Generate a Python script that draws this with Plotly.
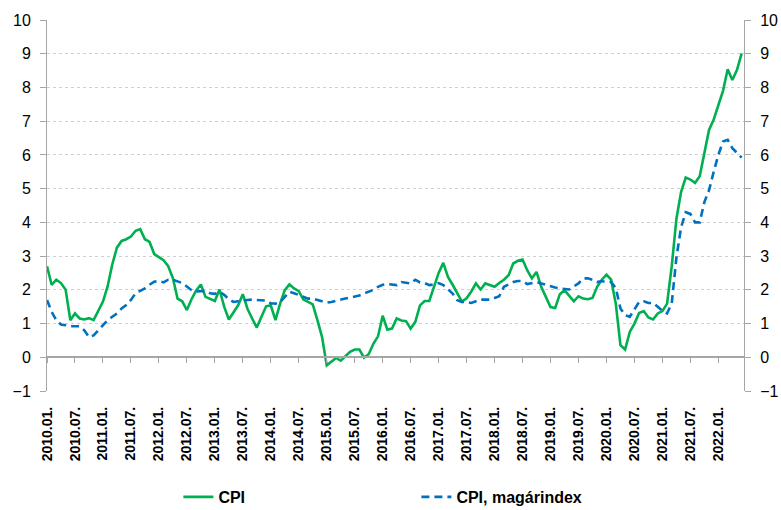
import plotly.graph_objects as go

years = list(range(2010, 2023))
months = [f"{y}.{m:02d}." for y in years for m in range(1, 13)][:150]

cpi = [
    2.7, 2.15, 2.3, 2.2, 2.0, 1.1, 1.3, 1.15, 1.12, 1.16, 1.1, 1.4,
    1.65, 2.1, 2.75, 3.25, 3.45, 3.5, 3.58, 3.75, 3.8, 3.5, 3.42, 3.06,
    2.98, 2.88, 2.7, 2.35, 1.74, 1.66, 1.4, 1.72, 1.98, 2.16, 1.79, 1.72,
    1.67, 2.01, 1.5, 1.12, 1.35, 1.54, 1.87, 1.44, 1.15, 0.88, 1.2, 1.51,
    1.54, 1.1, 1.59, 1.99, 2.16, 2.04, 1.96, 1.71, 1.64, 1.57, 1.1, 0.6,
    -0.24, -0.12, -0.02, -0.1, 0.02, 0.16, 0.23, 0.23, -0.01, 0.09, 0.4, 0.62,
    1.23, 0.82, 0.85, 1.15, 1.09, 1.07, 0.85, 1.05, 1.54, 1.67, 1.67, 2.1,
    2.5, 2.8, 2.38, 2.15, 1.9, 1.65, 1.75, 1.95, 2.19, 2.01, 2.19, 2.14,
    2.09, 2.2, 2.3, 2.43, 2.78, 2.86, 2.9, 2.58, 2.34, 2.53, 2.09, 1.79,
    1.49, 1.46, 1.87, 1.99, 1.81, 1.66, 1.81, 1.74, 1.72, 1.76, 2.09, 2.3,
    2.45, 2.3, 1.59, 0.36, 0.23, 0.75, 1.0, 1.31, 1.37, 1.18, 1.12, 1.3,
    1.37, 1.59, 2.7, 4.1, 4.9, 5.33, 5.27, 5.17, 5.37, 6.04, 6.74, 7.05,
    7.48, 7.9, 8.54, 8.22, 8.52, 9.01,
]

core = [
    1.7, 1.35, 1.1, 0.97, 0.95, 0.92, 0.92, 0.92, 0.8, 0.6, 0.65, 0.8,
    0.98, 1.1, 1.2, 1.3, 1.45, 1.55, 1.7, 1.9, 1.97, 2.04, 2.15, 2.24,
    2.26, 2.22, 2.3, 2.3, 2.25, 2.2, 2.1, 1.99, 1.95, 1.97, 1.97, 1.9,
    1.88, 1.94, 1.85, 1.72, 1.64, 1.66, 1.69, 1.7, 1.71, 1.7, 1.69, 1.68,
    1.6, 1.59, 1.64, 1.79, 1.94, 1.9, 1.85, 1.79, 1.74, 1.74, 1.7, 1.64,
    1.62, 1.64, 1.68, 1.71, 1.74, 1.77, 1.8, 1.83, 1.89, 1.94, 2.0, 2.09,
    2.15, 2.17, 2.15, 2.14, 2.23, 2.22, 2.19, 2.3, 2.22, 2.2, 2.14, 2.16,
    2.2, 2.14, 2.0, 1.89, 1.69, 1.64, 1.64, 1.61, 1.66, 1.71, 1.71, 1.71,
    1.76, 1.81, 2.09, 2.15, 2.23, 2.26, 2.26, 2.17, 2.2, 2.23, 2.19, 2.15,
    2.09, 2.07, 2.04, 2.02, 2.01, 2.1, 2.19, 2.34, 2.34, 2.3, 2.23, 2.26,
    2.23, 2.23, 2.05, 1.45, 1.25, 1.2, 1.44, 1.64, 1.66, 1.61, 1.61, 1.5,
    1.38, 1.3, 1.6, 2.95, 3.85, 4.3, 4.25, 4.0, 4.0, 4.6, 4.95, 5.5,
    6.0, 6.4, 6.45, 6.2, 6.05, 5.92,
]

tick_labels = months[::6]
y_ticks = list(range(-1, 11))

GREEN = "#00B050"
BLUE = "#0070C0"
AXIS = "#A6A6A6"
GRID = "#D0D0D0"

fig = go.Figure()
fig.add_trace(go.Scatter(x=months, y=cpi, name="CPI", mode="lines",
                         xaxis="x", yaxis="y",
                         line=dict(color=GREEN, width=2.6)))
fig.add_trace(go.Scatter(x=months, y=core, name="CPI, magárindex", mode="lines",
                         xaxis="x2", yaxis="y2",
                         line=dict(color=BLUE, width=2.6, dash="8px,5px")))

yax = dict(range=[-1, 10], tickvals=y_ticks, showline=True, linecolor=AXIS, linewidth=1,
           ticks="outside", ticklen=6, tickcolor=AXIS, zeroline=False, automargin=False,
           tickfont=dict(family="Liberation Sans", size=16, color="#000000"),
           ticklabelstandoff=6)

fig.update_layout(
    width=781, height=510,
    margin=dict(l=47, r=37, t=20, b=119),
    paper_bgcolor="white", plot_bgcolor="white",
    showlegend=True,
    legend=dict(orientation="h", x=0.1885, xanchor="left", xref="paper",
                y=0.0255, yanchor="middle", yref="container",
                font=dict(family="Liberation Sans", size=16, color="#000000", weight="bold"),
                entrywidth=193, entrywidthmode="pixels", itemwidth=30,
                bgcolor="rgba(0,0,0,0)"),
    xaxis=dict(type="category", categoryorder="array", categoryarray=months,
               range=[0, 149.5], tickmode="array", tickvals=tick_labels,
               ticktext=tick_labels, tickangle=-90, ticks="", showline=False, showgrid=False,
               zeroline=False, ticklabelstandoff=12, automargin=False,
               tickfont=dict(family="Liberation Sans", size=14, color="#000000", weight="bold")),
    xaxis2=dict(type="category", categoryorder="array", categoryarray=months,
                overlaying="x", anchor="free", position=1/11, range=[0, 149.5],
                tickmode="array", tickvals=tick_labels, showticklabels=False,
                ticks="outside", ticklen=5, tickcolor=AXIS, showline=True, linecolor=AXIS,
                linewidth=1.5, showgrid=False, zeroline=False, automargin=False),
    yaxis=dict(**yax, side="left", showgrid=True, gridcolor=GRID, griddash="dot", gridwidth=1),
    yaxis2=dict(**yax, side="right", overlaying="y", showgrid=False),
)

fig.write_html("out.html", config={"displayModeBar": False},
               post_script="document.body.style.margin='0';document.body.style.overflow='hidden';")
